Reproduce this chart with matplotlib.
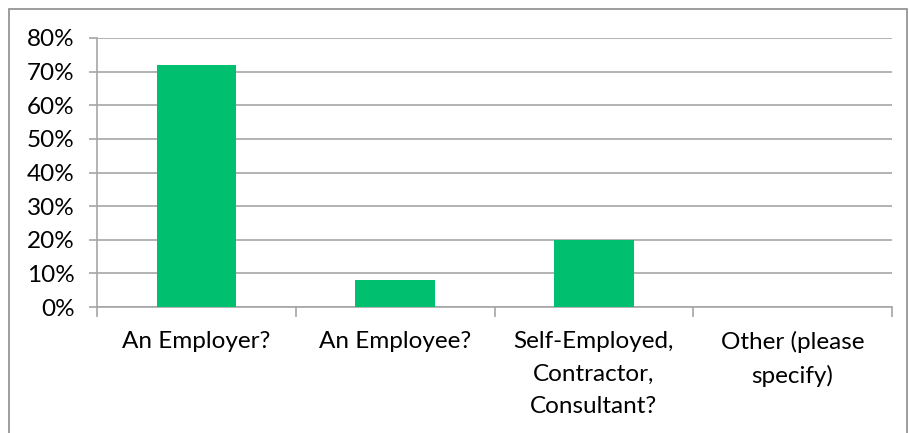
import numpy as np
import matplotlib.pyplot as plt
from matplotlib.patches import Rectangle
from matplotlib.ticker import FixedLocator, PercentFormatter

categories = ['An Employer?', 'An Employee?', 'Self-Employed,\nContractor,\nConsultant?', 'Other (please\nspecify)']
values = [72, 8, 20, 0]

plt.rcParams['font.family'] = ['Lato', 'DejaVu Sans']

fig = plt.figure(figsize=(9.09, 4.33), dpi=100)
# outer chart border
fig.patches.append(Rectangle((9 / 909, -0.01), 898 / 909, 1 - 9 / 433 + 0.01,
                             transform=fig.transFigure, fill=False,
                             edgecolor='#8c8c8c', linewidth=1.2))

ax = fig.add_axes([97 / 909, 1 - 307 / 433, 795 / 909, 269 / 433])

x = np.arange(len(categories))
ax.bar(x, values, width=0.4, color='#00c06f', zorder=3)

ax.set_xlim(-0.5, len(categories) - 0.5)
ax.set_ylim(0, 80)
ax.set_yticks(np.arange(0, 81, 10))
ax.yaxis.set_major_formatter(PercentFormatter(decimals=0))
ax.grid(axis='y', color='#a6a6a6', linewidth=1.2, zorder=0)

ax.set_xticks(x)
ax.set_xticklabels(categories)
ax.xaxis.set_minor_locator(FixedLocator(np.arange(-0.5, len(categories), 1)))
ax.tick_params(axis='x', which='major', length=0, pad=17, labelsize=17.5)
ax.tick_params(axis='x', which='minor', length=7, color='#a6a6a6', width=1.2)
ax.tick_params(axis='y', length=6, color='#a6a6a6', width=1.2, labelsize=17.5, pad=10)

for side in ['top', 'right']:
    ax.spines[side].set_visible(False)
for side in ['left', 'bottom']:
    ax.spines[side].set_color('#a6a6a6')
    ax.spines[side].set_linewidth(1.2)

for lbl in ax.get_xticklabels():
    lbl.set_verticalalignment('top')
    lbl.set_linespacing(1.7)

fig.savefig('out.png', dpi=100)
